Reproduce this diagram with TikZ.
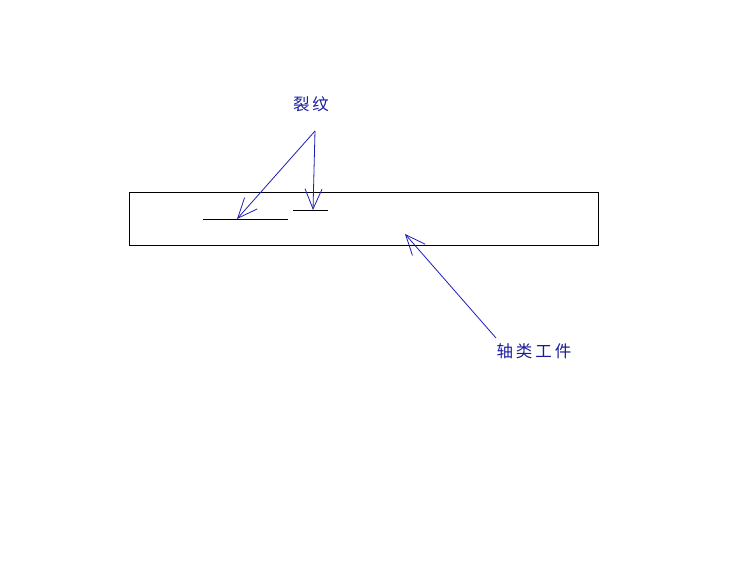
\documentclass[tikz,border=0pt]{standalone}
\usepackage{fontspec}
\newfontfamily\cjk{Noto Sans CJK SC}
\usetikzlibrary{arrows.meta}
\definecolor{penblue}{HTML}{1C1CB4}
\definecolor{textblue}{HTML}{1A1A9C}

\begin{document}
\begin{tikzpicture}[x=1pt, y=-1pt,
    pointer/.style={draw=penblue, line width=0.8pt, -{Straight Barb[length=20pt, width=17pt]}},
    label/.style={inner sep=0pt, text=textblue, font=\cjk\fontsize{16.5}{16.5}\selectfont}]
            \useasboundingbox (0,0) rectangle (744,583);
            % shaft and the two cracks
            \draw[line width=0.8pt] (129,192) rectangle (598,245);
            \draw[line width=0.8pt] (203,219) -- (288,219);
            \draw[line width=0.8pt] (293,210) -- (328,210);

            \node[label] (crack) at (311,104) {裂\kern3pt 纹};
            \node[label] (shaft) at (534,351) {轴\kern3pt 类\kern3pt 工\kern3pt 件};

            \coordinate (fork) at (315,131);
            \coordinate (tipa) at (237,219);
            \coordinate (tipb) at (313,210);
            \coordinate (tail) at (496,338);
            \coordinate (tipc) at (405,234);

            \draw[pointer] (fork) -- (tipa);
            \draw[pointer] (fork) -- (tipb);
            \draw[pointer] (tail) -- (tipc);
        \end{tikzpicture}
\end{document}
